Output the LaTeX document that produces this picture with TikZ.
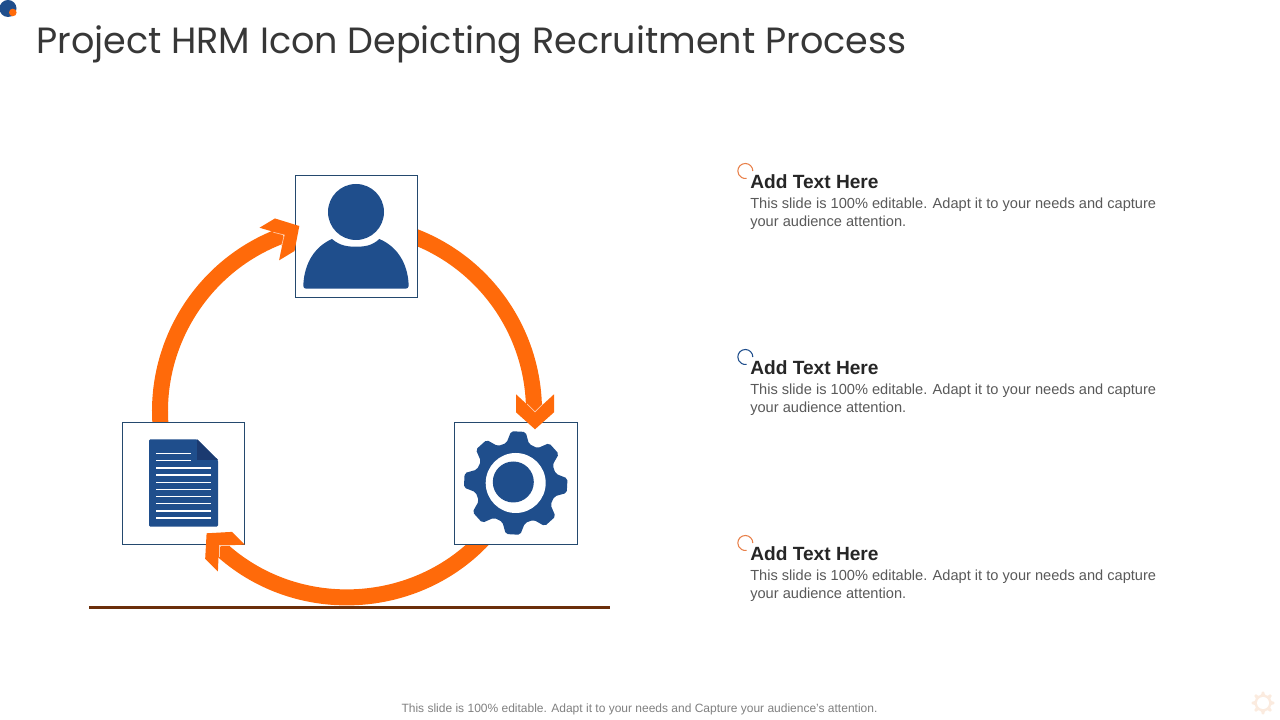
\documentclass[tikz,border=0pt]{standalone}
\usepackage{fontspec}
\setmainfont{Liberation Sans}
\newfontfamily\titlefont{Poppins}
\usetikzlibrary{calc}
\definecolor{flow}{HTML}{FF6A0A}
\definecolor{iconblue}{HTML}{1F4E8C}
\definecolor{iconnavy}{HTML}{1B3A70}
\definecolor{boxline}{HTML}{24496E}
\definecolor{rule}{HTML}{6B2F0A}
\definecolor{bodygray}{HTML}{595959}
\definecolor{headdark}{HTML}{262626}
\definecolor{ringorange}{HTML}{E8804A}
\definecolor{wmark}{HTML}{FBEBDF}

\begin{document}
\begin{tikzpicture}[
    x=0.75pt, y=0.75pt,
    iconbox/.style={draw=boxline, line width=0.6pt, fill=white, minimum width=92pt, minimum height=92pt, inner sep=0pt},
    flowarc/.style={draw=flow, line width=12pt},
    head/.style={anchor=base west, font=\fontsize{14.35}{18}\selectfont\bfseries, text=headdark, inner sep=0pt},
    body/.style={anchor=north west, align=left, font=\fontsize{10.96}{13.5}\selectfont, text=bodygray, inner sep=0pt},
    bulletarc/.style={line width=0.8pt},
    chevhead/.pic={
        \fill[flow] (0,0) -- (-17,19) -- (-35,19) -- (-17.5,0) -- (-35,-19) -- (-17,-19) -- cycle;
        \draw[white!65!flow, line width=0.5pt] (-25.5,8) -- (-17.5,0) -- (-25.5,-8);
    }
]
\useasboundingbox (0,0) rectangle (1280,720);

\coordinate (hub) at (347,309);
\coordinate (docout) at ($(hub)+(190:187)$);
\coordinate (userin) at ($(hub)+(110:187)$);
\coordinate (userout) at ($(hub)+(75:187)$);
\coordinate (gearin) at ($(hub)+(0:187)$);
\coordinate (gearout) at ($(hub)+(320:187)$);
\coordinate (docin) at ($(hub)+(227:187)$);

% ring
\draw[flowarc] (docout) to[bend left=40, looseness=0.964] (userin);
\draw[flowarc] (userout) to[bend left=37.5, looseness=0.95] (gearin);
\draw[flowarc] (gearout) to[bend left=46.5] (docin);

\node[iconbox] (userbox) at (356.5,483.5) {};
\node[iconbox] (gearbox) at (516,236.5) {};
\node[iconbox] (docbox) at (183.5,236.5) {};

\pic[rotate=31] at (299.3,494) {chevhead};
\pic[rotate=-90] at (535,290.7) {chevhead};
\pic[rotate=135] at (206.6,186.7) {chevhead};

\draw[rule, line width=2.5pt] (89,112.7) -- (610,112.7);

% user icon
\fill[iconblue] (356,508) circle[radius=28];
\fill[iconblue] (306,431.3) -- (405.7,431.3) to[out=0, in=-90] (408.7,434)
    .. controls (408,458) and (396,474) .. (379.3,481)
    .. controls (372,474) and (364,473.3) .. (356,473.3)
    .. controls (348,473.3) and (340,474) .. (332,481)
    .. controls (316,474) and (304,458) .. (303.3,434)
    to[out=-90, in=180] cycle;

% document icon
\fill[iconblue, rounded corners=1pt] (149,280.7) -- (197.2,280.7) -- (218,260) -- (218,193.3) -- (149,193.3) -- cycle;
\fill[iconnavy] (197.2,280.7) -- (218,260) -- (197.2,260) -- cycle;
\foreach \yy in {266.7,259.3}
    \draw[white, line width=0.9pt] (156,\yy) -- (191.4,\yy);
\foreach \yy in {252,245,237.7,230.7,223.3,216.3,209,202}
    \draw[white, line width=0.9pt] (156,\yy) -- (211,\yy);

% gear icon
\fill[iconblue, rounded corners=1.5pt, shift={(515.7,237)}] (64.5:41)
    \foreach \a in {87,132,...,402} { -- (\a-16:41) -- (\a-8:52) -- (\a+8:52) -- (\a+16:41) } -- cycle;
\fill[white] (515.7,237) circle[radius=30];
\fill[iconblue] (513.3,238) circle[radius=20.5];

% title and corner marks
\fill[iconblue] (8,711.5) circle[radius=8.5];
\fill[flow] (12.8,707.5) circle[radius=3.8];
\node[anchor=base west, inner sep=0pt, font=\fontsize{27.4}{34}\selectfont\titlefont, text=headdark!92!white] (title) at (36,666.5) {Project HRM Icon Depicting Recruitment Process};

% text blocks
\draw[ringorange, bulletarc] (752.8,549) arc[start angle=0, end angle=280, radius=7.5];
\node[head] (headA) at (750,531) {Add Text Here};
\node[body] (bodyA) at (750,522) {This slide is 100\% editable. Adapt it to your needs and capture\\your audience attention.};

\draw[iconblue, bulletarc] (752.8,363) arc[start angle=0, end angle=280, radius=7.5];
\node[head] (headB) at (750,345) {Add Text Here};
\node[body] (bodyB) at (750,336) {This slide is 100\% editable. Adapt it to your needs and capture\\your audience attention.};

\draw[ringorange, bulletarc] (752.8,177) arc[start angle=0, end angle=280, radius=7.5];
\node[head] (headC) at (750,159) {Add Text Here};
\node[body] (bodyC) at (750,150) {This slide is 100\% editable. Adapt it to your needs and capture\\your audience attention.};

\node[anchor=base, inner sep=0pt, font=\fontsize{9}{11}\selectfont, text=gray] (footer) at (639.5,7) {This slide is 100\% editable. Adapt it to your needs and Capture your audience’s attention.};

% faint mark
\fill[wmark, rounded corners=0.5pt, shift={(1263,17)}] (22.5:8.5)
    \foreach \a in {45,90,...,360} { -- (\a-12:8.5) -- (\a-6:11.5) -- (\a+6:11.5) -- (\a+12:8.5) } -- cycle;
\fill[white] (1263,17) circle[radius=6];
\end{tikzpicture}
\end{document}
